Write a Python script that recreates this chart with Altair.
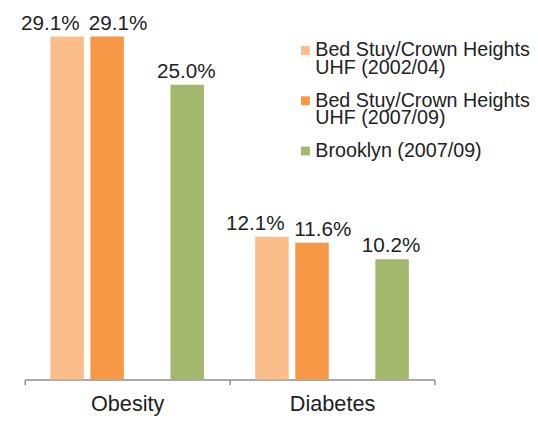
import altair as alt
import pandas as pd

categories = ["Obesity", "Diabetes"]
series = [
    "Bed Stuy/Crown Heights UHF (2002/04)",
    "Bed Stuy/Crown Heights UHF (2007/09)",
    "Brooklyn (2007/09)",
]
bedstuy_0204 = [29.1, 12.1]
bedstuy_0709 = [29.1, 11.6]
brooklyn_0709 = [25.0, 10.2]
colors = ["#FBBE8A", "#F79846", "#A3B86C"]

rows = []
for s, vals in zip(series, [bedstuy_0204, bedstuy_0709, brooklyn_0709]):
    for c, v in zip(categories, vals):
        rows.append({"category": c, "series": s, "value": v})
df = pd.DataFrame(rows)

FONT = "Liberation Sans"
TXT = "#222222"
offset_domain = series[:2] + ["gap"] + series[2:]

split_expr = (
    "indexof(datum.label, ' UHF') > 0 ? "
    "[slice(datum.label, 0, indexof(datum.label, ' UHF')), "
    "slice(datum.label, indexof(datum.label, ' UHF') + 1)] : datum.label"
)

base = alt.Chart(df).encode(
    x=alt.X(
        "category:N",
        sort=categories,
        scale=alt.Scale(paddingInner=0, paddingOuter=0),
        axis=alt.Axis(
            title=None, labelAngle=0, tickBand="extent",
            domainColor="#8c8c8c", tickColor="#8c8c8c", domainWidth=1.5, tickWidth=1.5,
            tickSize=5, labelPadding=10, labelFontSize=22, labelColor=TXT,
            labelFont=FONT, grid=False,
        ),
    ),
    xOffset=alt.XOffset(
        "series:N",
        scale=alt.Scale(domain=offset_domain, paddingInner=0.164, paddingOuter=0.64),
    ),
    y=alt.Y("value:Q", scale=alt.Scale(domain=[0, 31], nice=False), axis=None),
)

bars = base.mark_bar().encode(
    color=alt.Color(
        "series:N",
        scale=alt.Scale(domain=series, range=colors),
        legend=alt.Legend(
            title=None, orient="none", legendX=275, legendY=27,
            symbolType="square", symbolSize=81, symbolStrokeWidth=0,
            labelFont=FONT, labelFontSize=20, labelColor=TXT, labelLimit=400,
            labelOffset=0, rowPadding=13, padding=0, labelExpr=split_expr,
        ),
    )
)

label_layers = []
for s, dx in zip(series, [-17, 11, -1]):
    label_layers.append(
        base.transform_filter(alt.datum.series == s)
        .transform_calculate(label="format(datum.value, '.1f') + '%'")
        .mark_text(dx=dx, dy=-7, baseline="alphabetic", font=FONT, fontSize=21, color=TXT)
        .encode(text="label:N")
    )

chart = (
    alt.layer(bars, *label_layers)
    .properties(
        width=416, height=371,
        padding={"left": 17, "top": 3, "right": 97, "bottom": 39},
        autosize=alt.AutoSizeParams(type="none"),
    )
    .configure(style={"guide-label": {"lineHeight": 18}})
    .configure_view(stroke=None)
)

chart.save("out.html", embed_options={"renderer": "svg", "actions": False})
